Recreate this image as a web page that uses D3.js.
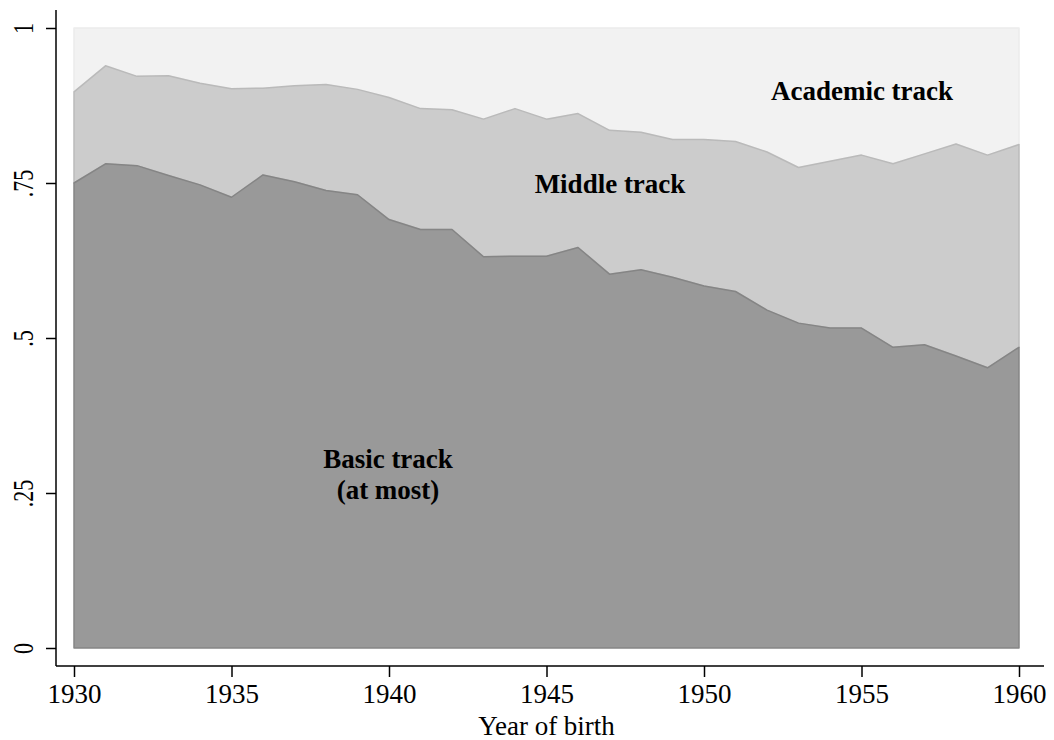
<!DOCTYPE html>
<html>
<head>
<meta charset="utf-8">
<script src="https://cdn.jsdelivr.net/npm/d3@7"></script>
<style>
  body { margin: 0; background: #fff; }
  svg text { font-family: "Liberation Serif", "Times New Roman", serif; fill: #000; }
  .axis path, .axis line { stroke: #000; stroke-width: 1.5; }
  .lbl { font-weight: bold; font-size: 27px; }
</style>
</head>
<body>
<svg id="chart" width="1054" height="740"></svg>
<script>
const years = d3.range(1930, 1961);

// cumulative share: at most basic track
const basicTop = [
  0.750, 0.781, 0.778, 0.762, 0.747, 0.727, 0.763, 0.752, 0.738, 0.731,
  0.691, 0.675, 0.675, 0.631, 0.632, 0.632, 0.646, 0.603, 0.610, 0.598,
  0.584, 0.575, 0.545, 0.524, 0.516, 0.516, 0.485, 0.489, 0.471, 0.452,
  0.485,
];

// cumulative share: at most middle track
const middleTop = [
  0.897, 0.939, 0.922, 0.923, 0.911, 0.902, 0.903, 0.907, 0.909, 0.901,
  0.888, 0.870, 0.868, 0.853, 0.870, 0.853, 0.862, 0.835, 0.832, 0.820,
  0.820, 0.817, 0.800, 0.775, 0.785, 0.795, 0.781, 0.797, 0.813, 0.795,
  0.812,
];

const academicTop = years.map(() => 1);

const xTicks = [1930, 1935, 1940, 1945, 1950, 1955, 1960];
const yTicks = [0, 0.25, 0.5, 0.75, 1];
const yTickLabels = ["0", ".25", ".5", ".75", "1"];

const layers = [
  { name: "academic", lo: middleTop, hi: academicTop, fill: "#f2f2f2", stroke: "#ececec" },
  { name: "middle", lo: basicTop, hi: middleTop, fill: "#cccccc", stroke: "#bababa" },
  { name: "basic", lo: null, hi: basicTop, fill: "#999999", stroke: "#858585" },
];

const svg = d3.select("#chart");
const x = d3.scaleLinear().domain([1930, 1960]).range([74, 1019]);
const y = d3.scaleLinear().domain([0, 1]).range([648, 28]);

const area = (lo, hi) =>
  d3.area()
    .x((d, i) => x(years[i]))
    .y0((d, i) => y(lo ? lo[i] : 0))
    .y1((d, i) => y(hi[i]));

layers.forEach((l) => {
  svg.append("path")
    .datum(years)
    .attr("d", area(l.lo, l.hi))
    .attr("fill", l.fill)
    .attr("stroke", l.stroke)
    .attr("stroke-width", 1.5)
    .attr("stroke-linejoin", "round");
});

// x axis
const xAxis = svg.append("g")
  .attr("class", "axis")
  .attr("transform", "translate(0,666)")
  .call(d3.axisBottom(x).tickValues(xTicks).tickFormat(d3.format("d")).tickSize(11).tickSizeOuter(0));
xAxis.select(".domain").attr("d", "M56,0H1044");
xAxis.selectAll(".tick text")
  .attr("font-size", 27)
  .attr("y", 37)
  .attr("dy", null);

svg.append("text")
  .attr("x", x(1945))
  .attr("y", 735)
  .attr("text-anchor", "middle")
  .attr("font-size", 27)
  .text("Year of birth");

// y axis
const yAxis = svg.append("g")
  .attr("class", "axis")
  .attr("transform", "translate(56,0)")
  .call(d3.axisLeft(y).tickValues(yTicks).tickFormat((d, i) => yTickLabels[i]).tickSize(10).tickSizeOuter(0));
yAxis.select(".domain").attr("d", "M0,10V666");
yAxis.selectAll(".tick text")
  .attr("x", null)
  .attr("dy", null)
  .attr("font-size", 22)
  .attr("text-anchor", "middle")
  .attr("transform", "translate(-23,0) rotate(-90) scale(1,1.3)");

// in-plot labels
svg.append("text").attr("class", "lbl").attr("x", 862).attr("y", 100)
  .attr("text-anchor", "middle").text("Academic track");
svg.append("text").attr("class", "lbl").attr("x", 610).attr("y", 193)
  .attr("text-anchor", "middle").text("Middle track");
svg.append("text").attr("class", "lbl").attr("x", 388).attr("y", 468)
  .attr("font-size", 26).attr("text-anchor", "middle").text("Basic track");
svg.append("text").attr("class", "lbl").attr("x", 388).attr("y", 499)
  .attr("font-size", 26).attr("text-anchor", "middle").text("(at most)");
</script>
</body>
</html>
